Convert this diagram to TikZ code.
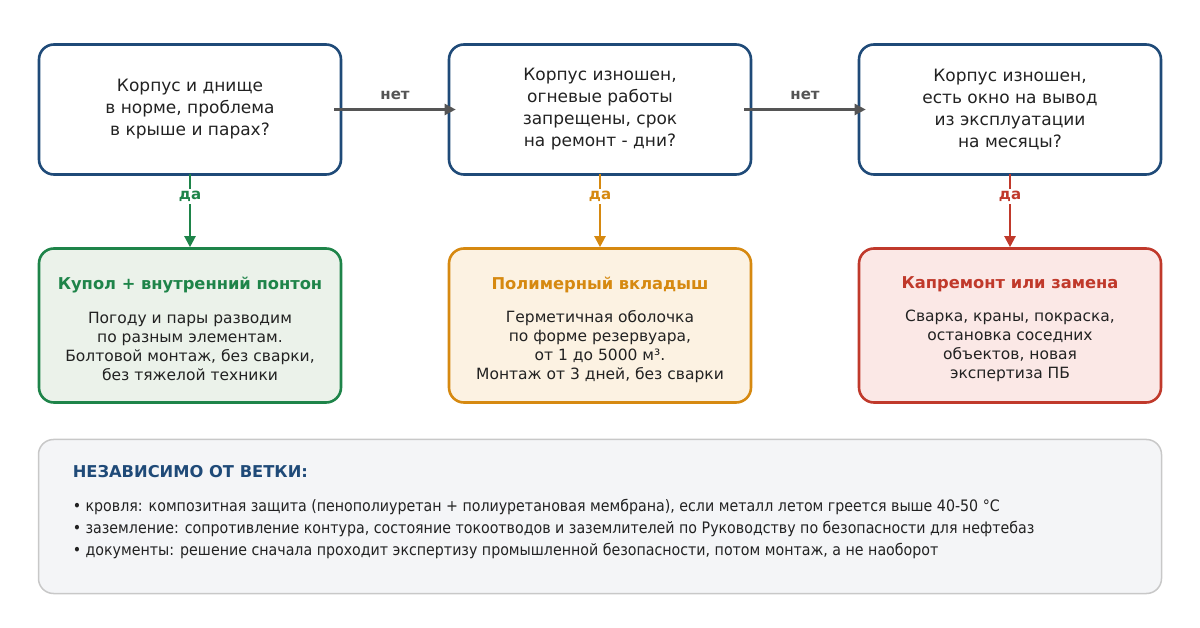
\documentclass[tikz,border=0pt]{standalone}
\usepackage{fontspec}
\setmainfont{DejaVu Sans}
\newfontfamily\condfont{DejaVu Sans Condensed}
\usetikzlibrary{arrows.meta}
\usetikzlibrary{positioning}

\definecolor{qblue}{HTML}{1F4A78}
\definecolor{ink}{HTML}{222222}
\definecolor{flowgray}{HTML}{555555}
\definecolor{okgreen}{HTML}{1E8449}
\definecolor{okfill}{HTML}{EBF2EA}
\definecolor{midorange}{HTML}{D68910}
\definecolor{midfill}{HTML}{FCF2E2}
\definecolor{badred}{HTML}{C0392B}
\definecolor{badfill}{HTML}{FBE8E6}
\definecolor{panelfill}{HTML}{F4F5F7}
\definecolor{panelline}{HTML}{C8C8C8}

\begin{document}
\begin{tikzpicture}[x=1pt,y=1pt,
  qbox/.style={draw=qblue, line width=2.6pt, rounded corners=15pt, fill=white,
    minimum width=302pt, minimum height=130pt, align=center, text=ink,
    font=\fontsize{17}{22}\selectfont},
  rbox/.style={line width=2.6pt, rounded corners=15pt,
    minimum width=302pt, minimum height=154pt},
  rtitle/.style={font=\fontsize{16.3}{19}\selectfont\bfseries, inner sep=0pt},
  rtext/.style={align=center, text=ink, inner sep=0pt,
    font=\fontsize{15.5}{19}\selectfont},
  flow/.style={line width=2.2pt, -{Triangle[length=11pt,width=11pt]}},
  lbl/.style={font=\fontsize{15}{17}\selectfont\bfseries, inner sep=2pt}]

\useasboundingbox (0,0) rectangle (1200,627);

% questions
\node[qbox] (q1) at (190,517.5) {Корпус и днище\\в норме, проблема\\в крыше и парах?};
\node[qbox] (q2) at (600,517.5) {Корпус изношен,\\огневые работы\\запрещены, срок\\на ремонт - дни?};
\node[qbox] (q3) at (1010,517.5) {Корпус изношен,\\есть окно на вывод\\из эксплуатации\\на месяцы?};

% outcomes
\node[rbox, draw=okgreen, fill=okfill] (r1) at (190,301.5) {};
\node[rbox, draw=midorange, fill=midfill] (r2) at (600,301.5) {};
\node[rbox, draw=badred, fill=badfill] (r3) at (1010,301.5) {};

\node[rtitle, text=okgreen] (r1t) at ([yshift=-37.5pt]r1.north) {Купол + внутренний понтон};
\node[rtitle, text=midorange] (r2t) at ([yshift=-37.5pt]r2.north) {Полимерный вкладыш};
\node[rtitle, text=badred] (r3t) at ([yshift=-37.5pt]r3.north) {Капремонт или замена};

\node[rtext] (r1b) at ([yshift=-99pt]r1.north) {Погоду и пары разводим\\по разным элементам.\\Болтовой монтаж, без сварки,\\без тяжелой техники};
\node[rtext] (r2b) at ([yshift=-99pt]r2.north) {Герметичная оболочка\\по форме резервуара,\\от 1 до 5000 м³.\\Монтаж от 3 дней, без сварки};
\node[rtext] (r3b) at ([yshift=-99pt]r3.north) {Сварка, краны, покраска,\\остановка соседних\\объектов, новая\\экспертиза ПБ};

% no
\draw[flow, flowgray] ([xshift=-8pt]q1.east) -- ([xshift=8pt]q2.west)
  node[midway, above=9pt, lbl, text=flowgray, inner sep=0pt] {нет};
\draw[flow, flowgray] ([xshift=-8pt]q2.east) -- ([xshift=8pt]q3.west)
  node[midway, above=9pt, lbl, text=flowgray, inner sep=0pt] {нет};

% yes
\draw[flow, okgreen] ([yshift=2pt]q1.south) -- (r1.north)
  node[pos=0.31, lbl, fill=white, text=okgreen] {да};
\draw[flow, midorange] ([yshift=2pt]q2.south) -- (r2.north)
  node[pos=0.31, lbl, fill=white, text=midorange] {да};
\draw[flow, badred] ([yshift=2pt]q3.south) -- (r3.north)
  node[pos=0.31, lbl, fill=white, text=badred] {да};

% notes
\node[draw=panelline, fill=panelfill, line width=1.5pt, rounded corners=15pt,
  minimum width=1123pt, minimum height=154pt] (notes) at (600,110.5) {};

\begin{scope}[anchor=west, inner sep=0pt, outer sep=0pt]
\node[font=\fontsize{16.3}{19}\selectfont\bfseries, text=qblue] (nt) at ([xshift=35pt,yshift=44.5pt]notes.west) {НЕЗАВИСИМО ОТ ВЕТКИ:};
\node[font=\condfont\fontsize{15.8}{18}\selectfont, text=ink] (n1) at ([xshift=35pt,yshift=9.5pt]notes.west) {• кровля: композитная защита (пенополиуретан + полиуретановая мембрана), если металл летом греется выше 40-50 °C};
\node[font=\condfont\fontsize{15.8}{18}\selectfont, text=ink] (n2) at ([xshift=35pt,yshift=-12.5pt]notes.west) {• заземление: сопротивление контура, состояние токоотводов и заземлителей по Руководству по безопасности для нефтебаз};
\node[font=\condfont\fontsize{15.8}{18}\selectfont, text=ink] (n3) at ([xshift=35pt,yshift=-34.5pt]notes.west) {• документы: решение сначала проходит экспертизу промышленной безопасности, потом монтаж, а не наоборот};
\end{scope}

\end{tikzpicture}
\end{document}
